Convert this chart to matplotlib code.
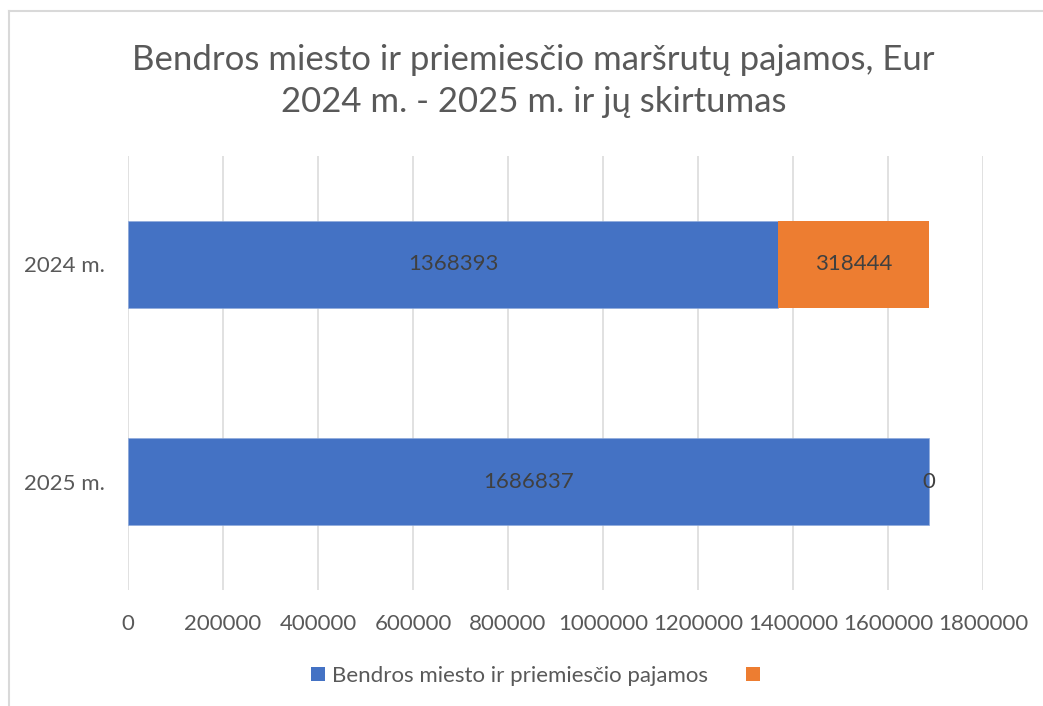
import matplotlib
matplotlib.use("Agg")
import matplotlib.pyplot as plt
from matplotlib.patches import Patch
from matplotlib.lines import Line2D

categories = ["2024 m.", "2025 m."]
revenue = [1368393, 1686837]
difference = [318444, 0]
xticks = [0, 200000, 400000, 600000, 800000, 1000000, 1200000, 1400000, 1600000, 1800000]
legend_labels = ["Bendros miesto ir priemiesčio pajamos", ""]
title_lines = ["Bendros miesto ir priemiesčio maršrutų pajamos, Eur",
               "2024 m. - 2025 m. ir jų skirtumas"]

plt.rcParams['font.family'] = ['Lato', 'DejaVu Sans']

W, H = 1043, 706
fig = plt.figure(figsize=(W / 100, H / 100), dpi=100)
fig.patch.set_facecolor("white")

BLUE = "#4472C4"
ORANGE = "#ED7D31"
TXT = "#595959"
GRID = "#D9D9D9"

ax = fig.add_axes([128 / W, 1 - 590 / H, (983 - 128) / W, (590 - 156) / H])
ypos = list(range(len(categories)))
b1 = ax.barh(ypos, revenue, height=0.4, color=BLUE, edgecolor="#8FAADC", linewidth=0.5, zorder=3)
b2 = ax.barh(ypos, difference, left=revenue, height=0.4, color=ORANGE, zorder=3)
ax.bar_label(b1, labels=[str(v) for v in revenue], label_type='center', color="#404040", fontsize=16, zorder=4)
ax.bar_label(b2, labels=[str(v) for v in difference], label_type='center', color="#404040", fontsize=16, zorder=4)

ax.set_xlim(0, 1800000)
ax.set_ylim(len(categories) - 0.5, -0.5)
ax.set_xticks(xticks)
ax.set_xticklabels([str(v) for v in xticks])
ax.set_yticks(ypos)
ax.set_yticklabels(categories)
ax.tick_params(axis='both', length=0, labelsize=16, colors=TXT)
ax.tick_params(axis='x', pad=17)
ax.tick_params(axis='y', pad=16.5)
ax.grid(axis='x', color=GRID, linewidth=1.1, zorder=0)
ax.set_axisbelow(True)
for s in ax.spines.values():
    s.set_visible(False)

# title
fig.text(533.5 / W, 1 - 70 / H, title_lines[0], ha='center', va='baseline', fontsize=25, color=TXT)
fig.text(533.5 / W, 1 - 112 / H, title_lines[1], ha='center', va='baseline', fontsize=25, color=TXT)

# legend
handles = [Patch(facecolor=BLUE, edgecolor='none'), Patch(facecolor=ORANGE, edgecolor='none')]
fig.legend(handles, legend_labels, loc='center', bbox_to_anchor=(539 / W, 1 - 676 / H),
           ncol=2, frameon=False, fontsize=16, labelcolor=TXT,
           handlelength=0.63, handleheight=0.63, handletextpad=0.3, columnspacing=1.7)

# chart border
fig.add_artist(Line2D([9 / W, 9 / W], [0, 1 - 11 / H], color=GRID, linewidth=1.5, transform=fig.transFigure))
fig.add_artist(Line2D([9 / W, 1], [1 - 11 / H, 1 - 11 / H], color=GRID, linewidth=1.5, transform=fig.transFigure))

fig.savefig("out.png", dpi=100)
